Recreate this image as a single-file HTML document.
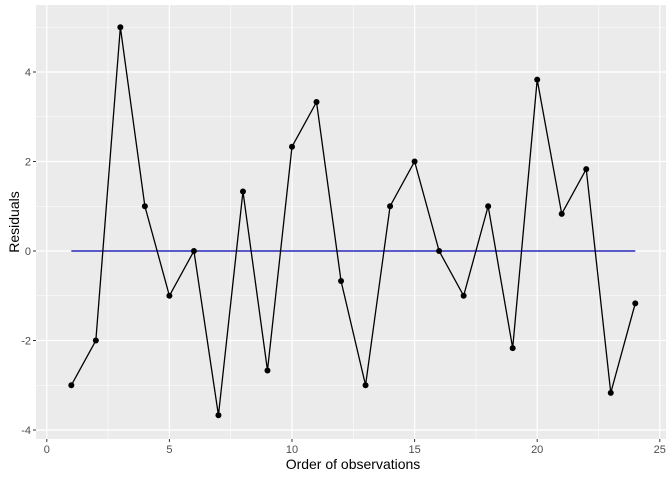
<!DOCTYPE html>
<html><head><meta charset="utf-8"><style>
body{margin:0;background:#fff;}
svg text{font-family:"Liberation Sans",sans-serif;}
</style></head><body>
<svg id="chart" width="672" height="480">
<rect x="0" y="0" width="672" height="480" fill="#fff"/>
<rect x="36" y="5" width="630" height="434" fill="#ebebeb"/>
<g id="grid"></g>
<g id="axes"></g>
<g id="marks"></g>
<text x="353" y="469" text-anchor="middle" font-size="14" fill="#000">Order of observations</text>
<text transform="translate(19,222) rotate(-90)" text-anchor="middle" font-size="14" fill="#000">Residuals</text>
</svg>
<script>
const obsOrder=[1,2,3,4,5,6,7,8,9,10,11,12,13,14,15,16,17,18,19,20,21,22,23,24];
const residuals=[-3,-2,5,1,-1,0,-3.67,1.33,-2.67,2.33,3.33,-0.67,-3,1,2,0,-1,1,-2.17,3.83,0.83,1.83,-3.17,-1.17];
const xTicks=[0,5,10,15,20,25];
const yTicks=[-4,-2,0,2,4];
const xMinor=[2.5,7.5,12.5,17.5,22.5];
const yMinor=[-3,-1,1,3,5];
const NS="http://www.w3.org/2000/svg";
const px0=36,px1=666,py0=5,py1=439;
function sx(v){return 46.8+v*24.52;}
function sy(v){return 251-v*44.75;}
function mk(tag,attrs,parent){const e=document.createElementNS(NS,tag);for(const k in attrs)e.setAttribute(k,attrs[k]);parent.appendChild(e);return e;}
const grid=document.getElementById('grid'),axes=document.getElementById('axes'),marks=document.getElementById('marks');
xMinor.forEach(v=>{const l=mk('line',{x1:sx(v),x2:sx(v),y1:py0,y2:py1,stroke:'#fff','stroke-width':0.6},grid);

});
yMinor.forEach(v=>{const y=sy(v);if(y<py0)return;const l=mk('line',{x1:px0,x2:px1,y1:y,y2:y,stroke:'#fff','stroke-width':0.6},grid);

});
xTicks.forEach(v=>{const x=sx(v);const l=mk('line',{x1:x,x2:x,y1:py0,y2:py1,stroke:'#fff','stroke-width':1.2},grid);


const t=mk('line',{x1:x,x2:x,y1:py1,y2:py1+3,stroke:'#333','stroke-width':1},axes);


const tx=mk('text',{x:x,y:py1+14,'text-anchor':'middle','font-size':11,fill:'#4d4d4d'},axes);tx.textContent=v;

});
yTicks.forEach(v=>{const y=sy(v);const l=mk('line',{x1:px0,x2:px1,y1:y,y2:y,stroke:'#fff','stroke-width':1.2},grid);


const t=mk('line',{x1:px0-3,x2:px0,y1:y,y2:y,stroke:'#333','stroke-width':1},axes);


const tx=mk('text',{x:px0-5,y:y+4,'text-anchor':'end','font-size':11,fill:'#4d4d4d'},axes);tx.textContent=v;

});
const zl=mk('line',{x1:sx(obsOrder[0]),x2:sx(obsOrder[obsOrder.length-1]),y1:sy(0),y2:sy(0),stroke:'#0000b0','stroke-width':1.3},marks);


const pts=obsOrder.map((o,i)=>sx(o)+','+sy(residuals[i])).join(' ');
const pl=mk('polyline',{points:pts,fill:'none',stroke:'#000','stroke-width':1.3},marks);


obsOrder.forEach((o,i)=>{const c=mk('circle',{cx:sx(o),cy:sy(residuals[i]),r:3,fill:'#000'},marks);

});
</script>
</body></html>
